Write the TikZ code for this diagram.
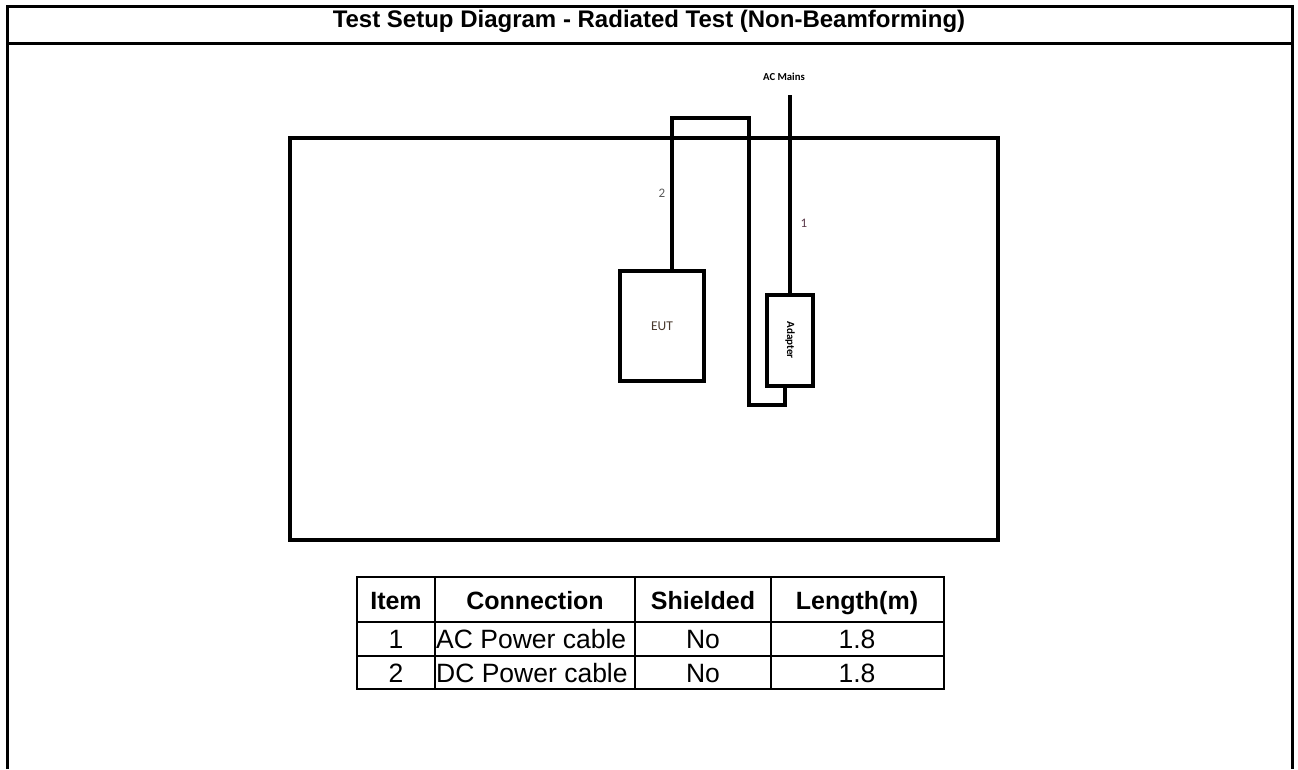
\documentclass[tikz,border=0pt]{standalone}
\usepackage{fontspec}
\setmainfont{Liberation Sans}
\newfontfamily\calibrifont{Carlito}
\usetikzlibrary{positioning,calc}
\definecolor{labelgray}{HTML}{595959}
\definecolor{eutbrown}{HTML}{4A3A2E}
\definecolor{cableplum}{HTML}{5A3848}
\tikzset{
  frameline/.style={line width=3pt},
  benchline/.style={draw,line width=4pt},
  cable/.style={line width=4pt},
  devbox/.style={draw,line width=4pt,fill=white,inner sep=0pt,font=\calibrifont\fontsize{13.5}{16}\selectfont},
  cablelabel/.style={inner sep=0pt,font=\calibrifont\fontsize{13}{15}\selectfont,text=labelgray},
  titletext/.style={inner sep=0pt,anchor=base,font=\bfseries\fontsize{24}{28}\selectfont},
  headcell/.style={inner sep=0pt,anchor=base,font=\bfseries\fontsize{25}{30}\selectfont},
  bodycell/.style={inner sep=0pt,anchor=base,font=\fontsize{26.5}{30}\selectfont},
  tablerule/.style={line width=2pt}
}

\begin{document}
\begin{tikzpicture}[x=1pt,y=-1pt]
  \useasboundingbox (0,0) rectangle (1298,769);
  % outer frame, open at the bottom
  \draw[frameline] (7,769) -- (7,6) -- (1292,6) -- (1292,769);
  \draw[frameline] (7,43) -- (1292,43);
  \node[titletext] (title) at (649,27) {Test Setup Diagram - Radiated Test (Non-Beamforming)};
  % test table outline
  \draw[benchline] (290,138) rectangle (998,540);
  % devices
  \node[devbox,minimum width=84pt,minimum height=110pt,text=eutbrown] (eut) at (662,326) {EUT};
  \node[devbox,minimum width=46pt,minimum height=91pt] (adapter) at (790,340) {};
  \node[inner sep=0pt,rotate=-90,font=\calibrifont\bfseries\fontsize{11}{13}\selectfont] (adaptertext) at (adapter.center) {Adapter};
  % cables
  \coordinate (mains) at (790,95);
  \coordinate (looptop) at (749,118);
  \coordinate (loopbottom) at (749,405);
  \node[inner sep=0pt,font=\calibrifont\bfseries\fontsize{10.7}{13}\selectfont] (mainslabel) at (784,77) {AC Mains};
  \draw[cable] (mains) -- (adapter.north);
  \draw[cable] ([xshift=10pt]eut.north) |- (looptop) -- (loopbottom) -| ([xshift=-5pt]adapter.south);
  \node[cablelabel] (dclabel) at (662,193) {2};
  \node[cablelabel,text=cableplum] (aclabel) at (804,223) {1};
  % cable list
  \foreach \x in {435,635,771}
    \draw[tablerule] (\x,577) -- (\x,689);
  \foreach \y in {622,656}
    \draw[tablerule] (357,\y) -- (944,\y);
  \draw[tablerule,line width=2.5pt] (357,577) rectangle (944,689);
  \node[headcell] (hitem) at (396,609) {Item};
  \node[headcell] (hconn) at (535,609) {Connection};
  \node[headcell] (hshield) at (703,609) {Shielded};
  \node[headcell] (hlen) at (857,609) {Length(m)};
  \node[bodycell] (item1) at (396,648.5) {1};
  \node[bodycell,anchor=base west] (conn1) at (436,648.5) {AC Power cable};
  \node[bodycell] (shield1) at (703,648.5) {No};
  \node[bodycell] (len1) at (857,648.5) {1.8};
  \node[bodycell] (item2) at (396,682.5) {2};
  \node[bodycell,anchor=base west] (conn2) at (436,682.5) {DC Power cable};
  \node[bodycell] (shield2) at (703,682.5) {No};
  \node[bodycell] (len2) at (857,682.5) {1.8};
\end{tikzpicture}
\end{document}
